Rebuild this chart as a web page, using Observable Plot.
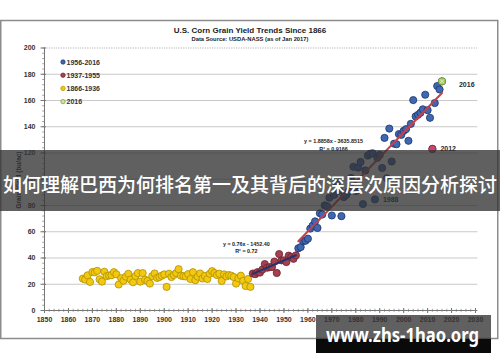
<!DOCTYPE html>
<html><head><meta charset="utf-8">
<script src="https://cdn.jsdelivr.net/npm/d3@7"></script>
<script src="https://cdn.jsdelivr.net/npm/@observablehq/plot@0.6"></script>
<style>
html,body{margin:0;padding:0;background:#fff;}
#wrap{position:relative;width:500px;height:362px;overflow:hidden;}
#wrap svg{position:absolute;left:0;top:0;}
</style></head><body><div id="wrap"></div>
<script>
// ---- data (bu/ac) ----
const earlyStart = 1866; // 1866-1936
const yieldsEarly = [24.3,23.6,26.8,21.8,29.3,29.1,30.2,23.8,22.0,29.5,
  26.2,26.7,26.9,29.2,27.6,19.8,24.6,22.7,25.8,28.0,
  23.5,21.5,26.3,28.5,22.0,28.5,23.5,22.5,20.5,26.2,
  28.2,24.8,25.5,26.5,27.5,18.0,28.0,25.5,27.0,28.5,
  31.5,26.5,26.2,25.9,27.7,24.0,29.2,23.1,25.8,28.2,
  24.4,26.3,24.0,28.0,30.0,28.5,27.0,28.0,22.5,27.5,
  26.0,27.0,26.5,25.5,20.5,24.5,26.5,22.6,18.7,24.0,18.0];
const midStart = 1937; // 1937-1955
const yieldsMid = [28.2,27.7,29.3,28.9,31.2,35.4,32.6,33.0,33.1,37.2,
  28.6,43.0,38.2,38.2,36.9,41.8,40.7,39.4,42.0];
const modernStart = 1956; // 1956-2016
const yieldsModern = [47.4,48.3,52.8,53.1,54.7,62.4,64.7,67.9,62.9,74.1,
  73.1,80.1,79.5,85.9,72.4,88.1,97.0,91.3,71.9,86.4,
  88.0,90.8,101.0,109.5,91.0,108.9,113.2,81.1,106.7,118.0,
  119.4,119.8,84.6,116.3,118.5,108.6,131.5,100.7,138.6,113.5,
  127.1,126.7,134.4,133.8,136.9,138.2,129.3,142.2,160.3,147.9,
  149.1,150.7,153.3,164.4,152.6,146.8,123.1,158.1,171.0,168.4,174.6];
const seriesNames = ["1956-2016","1937-1955","1866-1936","2016"];
const xTicks = [1850,1860,1870,1880,1890,1900,1910,1920,1930,1940,1950,1960,1970,1980,1990,2000,2010,2020,2030];
const yTicks = [0,20,40,60,80,100,120,140,160,180,200];
const titleText = "U.S. Corn Grain Yield Trends Since 1866";
const subtitleText = "Data Source: USDA-NASS (as of Jan 2017)";
const yLabelText = "Grain Yield (bu/ac)";
const eqModern = ["y = 1.8858x - 3635.8515", "R\u00b2 = 0.9166"];
const eqMid = ["y = 0.76x - 1452.40", "R\u00b2 = 0.72"];
const bannerText = "如何理解巴西为何排名第一及其背后的深层次原因分析探讨";
const watermarkText = "www.zhs-1hao.org";

// ---- rows ----
const early = yieldsEarly.map((v,i)=>({year: earlyStart+i, value: v}));
const mid = yieldsMid.map((v,i)=>({year: midStart+i, value: v}));
const modern = yieldsModern.map((v,i)=>({year: modernStart+i, value: v}));
const pt = y => modern.filter(d => d.year === y);

const colors = {modern:"#3e67b4", modernS:"#1d3566", mid:"#a6404f", midS:"#6b2431",
  early:"#f2c811", earlyS:"#b09000", y2016:"#a9cc62", y2016S:"#6e9a34", y2012:"#cc4468", y2012S:"#8a2a45"};
const font = "'Liberation Sans', Arial, Helvetica, sans-serif";
const tb = {fontSize:7, fontWeight:"bold", fill:"#2a2a2a"};

const plot = Plot.plot({
  width:500, height:362,
  marginLeft:44, marginRight:25, marginTop:47.5, marginBottom:52,
  x:{domain:[1850,2030]}, y:{domain:[0,200]},
  style:{fontFamily:font, background:"transparent", color:"#333", overflow:"visible"},
  marks:[
    Plot.ruleY(yTicks.filter(d=>d>0 && d<200), {x1:1850, x2:2031, stroke:"#c9c9c9", strokeWidth:1}),
    Plot.ruleY([200], {x1:1850, x2:2031, stroke:"#b5b5b5", strokeDasharray:"1.2,1.2"}),
    Plot.ruleY(d3.range(0,201,4), {x1:1850, x2:1850, insetLeft:-1.8, stroke:"#8a8a8a", strokeWidth:0.8}),
    Plot.ruleY(yTicks, {x1:1850, x2:1850, insetLeft:-3.5, insetRight:-2, stroke:"#777"}),
    Plot.ruleX(d3.range(1850,2031,2), {y1:0, y2:0, insetTop:-1.2, insetBottom:-1.8, stroke:"#8a8a8a", strokeWidth:0.8}),
    Plot.ruleX(xTicks, {y1:0, y2:0, insetTop:-2, insetBottom:-3, stroke:"#777"}),
    Plot.ruleX([1850], {y1:0, y2:200, stroke:"#777"}),
    Plot.ruleY([0], {x1:1850, x2:2031, stroke:"#777"}),
    Plot.axisY({ticks:yTicks, tickSize:0, tickPadding:9, fontSize:7, fontWeight:"bold", fill:"#333", label:null}),
    Plot.axisX({ticks:xTicks, tickSize:0, tickPadding:7, fontSize:7, fontWeight:"bold", fill:"#333", label:null, tickFormat:d=>String(d)}),
    Plot.dot(early, {x:"year", y:"value", r:3.6, fill:colors.early, stroke:colors.earlyS, strokeWidth:0.8}),
    Plot.dot(mid, {x:"year", y:"value", r:3.6, fill:colors.mid, stroke:colors.midS, strokeWidth:0.8}),
    Plot.dot(modern, {x:"year", y:"value", r:3.6, fill:colors.modern, stroke:colors.modernS, strokeWidth:0.8}),
    Plot.linearRegressionY(mid, {x:"year", y:"value", stroke:"#1f3570", strokeWidth:2, ci:0}),
    Plot.linearRegressionY(modern, {x:"year", y:"value", stroke:"#c8404a", strokeWidth:2, ci:0}),
    Plot.dot(pt(2012), {x:"year", y:"value", r:3.6, fill:colors.y2012, stroke:colors.y2012S, strokeWidth:0.8}),
    Plot.dot(pt(2016), {x:"year", y:"value", r:3.6, fill:colors.y2016, stroke:colors.y2016S, strokeWidth:0.8}),
    Plot.dot(pt(2016), {x:"year", y:"value", r:2, symbol:"times", stroke:"#eaf5d5", strokeWidth:0.8}),
    Plot.text(pt(2016), {x:"year", y:"value", text:d=>String(d.year), dx:17, dy:3, textAnchor:"start", ...tb}),
    Plot.text(pt(2012), {x:"year", y:"value", text:d=>String(d.year), dx:8, textAnchor:"start", ...tb}),
    Plot.text(pt(1988), {x:"year", y:"value", text:d=>String(d.year), dx:8, textAnchor:"start", ...tb}),
    Plot.text([eqModern[0]], {x:1970.7, y:129, text:d=>d, fontSize:5.4, fontWeight:"bold", fill:"#222"}),
    Plot.text([eqModern[1]], {x:1970.7, y:123, text:d=>d, fontSize:5.4, fontWeight:"bold", fill:"#222"}),
    Plot.text([eqMid[0]], {x:1934.3, y:50.3, text:d=>d, fontSize:5.4, fontWeight:"bold", fill:"#222"}),
    Plot.text([eqMid[1]], {x:1934.3, y:45.2, text:d=>d, fontSize:5.4, fontWeight:"bold", fill:"#222"})
  ]
});
const wrap = document.getElementById("wrap");
wrap.appendChild(plot);

// ---- overlay: frame, titles, legend, banner, watermark ----
const ov = d3.select(wrap).append("svg").attr("width",500).attr("height",362)
  .style("font-family", font);
ov.append("rect").attr("x",0.75).attr("y",20.5).attr("width",497).attr("height",318)
  .attr("fill","none").attr("stroke","#8c8c8c").attr("stroke-width",1.5);
ov.append("text").attr("x",250).attr("y",30.7).attr("text-anchor","middle").attr("dominant-baseline","central")
  .attr("font-size",8).attr("font-weight","bold").attr("fill","#222").text(titleText);
ov.append("text").attr("x",250).attr("y",38.5).attr("text-anchor","middle").attr("dominant-baseline","central")
  .attr("font-size",5.8).attr("font-weight","bold").attr("fill","#222").text(subtitleText);
ov.append("text").attr("transform","translate(18.5,180) rotate(-90)").attr("text-anchor","middle")
  .attr("dominant-baseline","central").attr("font-size",6.5).attr("font-weight","bold").attr("fill","#222").text(yLabelText);
const legFill = [colors.modern, colors.mid, colors.early, "#cfe3a8"];
const legStroke = [colors.modernS, colors.midS, colors.earlyS, colors.y2016S];
seriesNames.forEach((n,i)=>{
  const cy = 62 + i*13.2;
  ov.append("circle").attr("cx",63).attr("cy",cy).attr("r",2.2).attr("fill",legFill[i]).attr("stroke",legStroke[i]).attr("stroke-width",0.7);
  ov.append("text").attr("x",66.5).attr("y",cy).attr("dominant-baseline","central")
    .attr("font-size",7).attr("font-weight","bold").attr("fill","#333").text(n);
});
// banner
ov.append("rect").attr("x",0).attr("y",150).attr("width",500).attr("height",61).attr("fill","#333").attr("fill-opacity",0.78);
ov.append("text").attr("x",250).attr("y",183.5).attr("text-anchor","middle").attr("dominant-baseline","central")
  .attr("font-family","'Noto Sans CJK SC', sans-serif").attr("font-size",19.8).attr("font-weight",500)
  .attr("fill","#fff").attr("textLength",494).attr("lengthAdjust","spacingAndGlyphs").text(bannerText);
// watermark
ov.append("rect").attr("x",316).attr("y",315).attr("width",175).attr("height",24).attr("fill","#333").attr("fill-opacity",0.78);
ov.append("rect").attr("x",316).attr("y",339).attr("width",175).attr("height",14).attr("fill","#0a0a0a");
ov.append("text").attr("x",402.5).attr("y",342).attr("text-anchor","middle")
  .attr("font-family","'Noto Sans', 'Open Sans', sans-serif").attr("font-size",19).attr("font-weight","bold")
  .attr("fill","#fff").attr("textLength",153).attr("lengthAdjust","spacingAndGlyphs").text(watermarkText);
</script></body></html>
